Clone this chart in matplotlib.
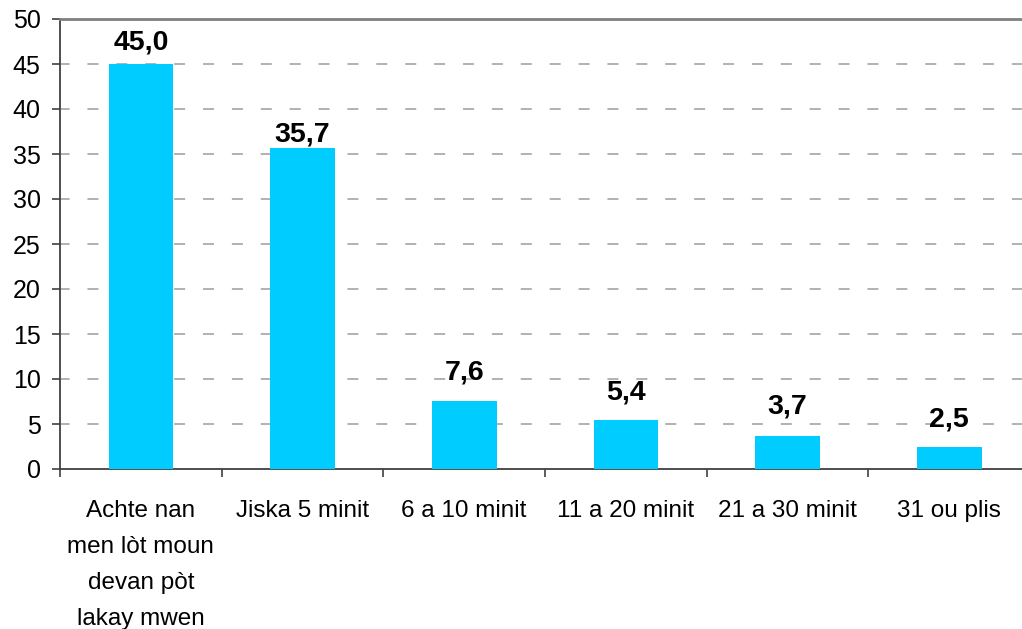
import matplotlib.pyplot as plt
import numpy as np

categories = ["Achte nan\nmen lòt moun\ndevan pòt\nlakay mwen", "Jiska 5 minit", "6 a 10 minit",
              "11 a 20 minit", "21 a 30 minit", "31 ou plis"]
values = [45.0, 35.7, 7.6, 5.4, 3.7, 2.5]
y_ticks = list(range(0, 51, 5))

plt.rcParams['font.family'] = ['Liberation Sans', 'DejaVu Sans']

fig = plt.figure(figsize=(10.22, 6.29), dpi=100)
W, H = 1022, 629
# plot area runs a little past the right edge, as in the reference
ax = fig.add_axes([60 / W, (H - 469) / H, 970 / W, 450 / H])

x = np.arange(len(values))
ax.bar(x, values, width=0.40, color="#00CCFF", zorder=3)

# gap (px) between bar top and label baseline, as placed in the original
label_gap = [14, 6, 21, 21, 22, 20]
for xi, v, g in zip(x, values, label_gap):
    ax.annotate(f"{v:.1f}".replace(".", ","), (xi, v), xytext=(0, g * 0.72),
                textcoords="offset points", ha="center", va="baseline",
                fontsize=20.5, fontweight="bold", color="black", zorder=4)

ax.set_xlim(-0.5, len(values) - 0.5)
ax.set_ylim(0, 50)
ax.set_yticks(y_ticks)
ax.set_yticklabels([str(t) for t in y_ticks], fontsize=18)

# ticks at category boundaries, labels at centres
ax.set_xticks(np.arange(len(values) + 1) - 0.5)
ax.set_xticklabels([])
ax.set_xticks(x, minor=True)
ax.set_xticklabels(categories, minor=True, fontsize=17.5, linespacing=1.83, va="top")
ax.tick_params(axis="x", which="minor", length=0, pad=22)
ax.tick_params(axis="x", which="major", length=6, width=1.2, color="#404040", direction="out")
ax.tick_params(axis="y", length=6, width=1.2, color="#404040", direction="out", pad=8)

for t in y_ticks[1:-1]:
    ax.axhline(t, color="#ABABAB", lw=1.3, linestyle=(0.8, (6.1, 9.9)), zorder=1)

ax.spines["right"].set_visible(False)
ax.spines["top"].set_color("#808080")
ax.spines["top"].set_linewidth(2)
ax.spines["left"].set_color("#404040")
ax.spines["left"].set_linewidth(1.3)
ax.spines["bottom"].set_color("#404040")
ax.spines["bottom"].set_linewidth(1.3)

fig.savefig("out.png", dpi=100)
